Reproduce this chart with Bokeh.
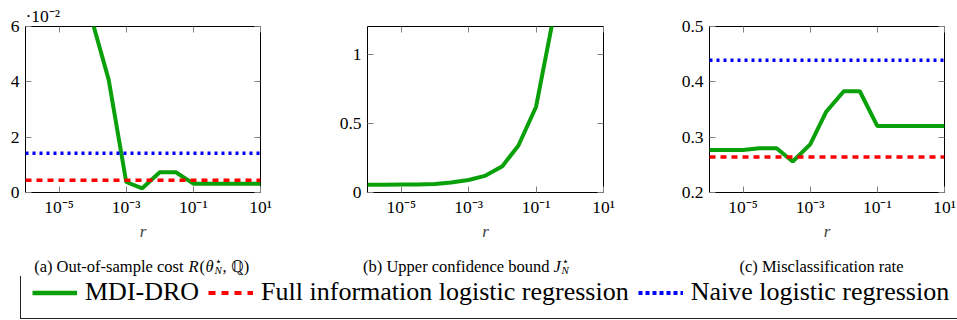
from bokeh.plotting import figure
from bokeh.layouts import column, row
from bokeh.models import (Range1d, FixedTicker, CustomJSTickFormatter, LogAxis, LinearAxis,
                          Span, Label, Legend, LegendItem, Title)
from bokeh.embed import file_html
from bokeh.resources import INLINE

# ---------------- data ----------------
r = [1e-6, 3e-6, 1e-5, 3e-5, 1e-4, 3e-4, 1e-3, 3e-3, 1e-2, 3e-2, 1e-1, 3e-1, 1, 3, 10]

# (a) out-of-sample cost (first visible point at r = 1e-4)
r_a = [1e-4, 3e-4, 1e-3, 3e-3, 1e-2, 3e-2, 1e-1, 3e-1, 1, 3, 10]
cost_mdi = [0.0614, 0.0408, 0.0038, 0.0015, 0.0073, 0.0073, 0.0032, 0.0032, 0.0032, 0.0032, 0.0032]
cost_full = 0.0044
cost_naive = 0.0142

# (b) upper confidence bound (visible part up to r = 0.3)
r_b = [1e-6, 3e-6, 1e-5, 3e-5, 1e-4, 3e-4, 1e-3, 3e-3, 1e-2, 3e-2, 1e-1, 3e-1]
ucb_mdi = [0.056, 0.056, 0.057, 0.058, 0.062, 0.072, 0.090, 0.120, 0.190, 0.340, 0.620, 1.22]

# (c) misclassification rate
mis_mdi = [0.277, 0.277, 0.277, 0.280, 0.280, 0.256, 0.287, 0.346, 0.383, 0.383, 0.320, 0.320, 0.320, 0.320, 0.320]
mis_full = 0.264
mis_naive = 0.439

xtick_vals = [1e-5, 1e-3, 1e-1, 10]
xtick_labels = ["10\u207b\u2075", "10\u207b\u00b3", "10\u207b\u00b9", "10\u00b9"]
ya_ticks = [0, 0.02, 0.04, 0.06]
ya_labels = ["0", "2", "4", "6"]
ya_scale_label = "\u00b710\u207b\u00b2"
yb_ticks = [0, 0.5, 1.0]
yb_labels = ["0", "0.5", "1"]
yc_ticks = [0.2, 0.3, 0.4, 0.5]
yc_labels = ["0.2", "0.3", "0.4", "0.5"]

series_names = ["MDI-DRO", "Full information logistic regression", "Naive logistic regression"]

# ---------------- style ----------------
FONT = "Liberation Serif, Times New Roman, serif"
GREEN = "#0aa00a"
RED = "#ff0000"
BLUE = "#0000ff"
TICK_COLOR = "#808080"
GREEN_W = 4
RED_DASH = "6 5"
BLUE_DASH = "3 4"
TICK_FS = "17.5px"
CAP_FS = "16.5px"

X_LO, X_HI = 1e-6, 10
TOP_B, FRAME_H, BOT_B = 26, 169, 48
CAP_H = 276 - (TOP_B + FRAME_H + BOT_B)


def fmt_lookup(vals, labs, log=False):
    cmp = "Math.abs(Math.log10(vals[i]) - Math.log10(tick)) < 1e-6" if log else "Math.abs(vals[i] - tick) < 1e-9"
    return CustomJSTickFormatter(args=dict(vals=vals, labs=labs), code="""
        for (let i = 0; i < vals.length; i++) {
            if (%s) return labs[i];
        }
        return '';
    """ % cmp)


def blank_fmt():
    return CustomJSTickFormatter(code="return '';")


def style_ticks(ax):
    ax.axis_line_color = None
    ax.major_tick_in = 6
    ax.major_tick_out = 0
    ax.major_tick_line_color = TICK_COLOR
    ax.minor_tick_line_color = None


def make_panel(width, left, right, yrange, yticks, ylabels):
    p = figure(width=width, height=TOP_B + FRAME_H + BOT_B, x_axis_type="log",
               x_range=Range1d(X_LO, X_HI), y_range=Range1d(*yrange),
               output_backend="svg", toolbar_location=None, title=None,
               min_border_left=left, min_border_right=right,
               min_border_top=TOP_B, min_border_bottom=BOT_B)
    p.grid.visible = False
    p.outline_line_color = "black"
    p.outline_line_width = 1
    p.outline_line_alpha = 1
    p.background_fill_color = "white"
    p.border_fill_color = "white"

    xa = p.xaxis[0]
    xa.ticker = FixedTicker(ticks=xtick_vals, minor_ticks=[])
    xa.formatter = fmt_lookup(xtick_vals, xtick_labels, log=True)
    xa.axis_label = "r"
    xa.axis_label_text_font = FONT
    xa.axis_label_text_font_style = "italic"
    xa.axis_label_text_font_size = "17px"
    xa.axis_label_standoff = 2

    ya = p.yaxis[0]
    ya.ticker = FixedTicker(ticks=yticks, minor_ticks=[])
    ya.formatter = fmt_lookup(yticks, ylabels)
    for ax in (xa, ya):
        style_ticks(ax)
        ax.major_label_text_font = FONT
        ax.major_label_text_font_size = TICK_FS
        ax.major_label_text_color = "black"
    xa.major_label_standoff = 4
    ya.major_label_standoff = 6

    top = LogAxis(ticker=FixedTicker(ticks=xtick_vals, minor_ticks=[]), formatter=blank_fmt())
    rgt = LinearAxis(ticker=FixedTicker(ticks=yticks, minor_ticks=[]), formatter=blank_fmt())
    for ax in (top, rgt):
        style_ticks(ax)
        ax.major_label_standoff = 0
        ax.major_label_text_font_size = "1px"
    p.add_layout(top, "above")
    p.add_layout(rgt, "right")
    return p


def make_caption_strip(width):
    s = figure(width=width, height=CAP_H, x_range=Range1d(0, width), y_range=Range1d(0, CAP_H),
               output_backend="svg", toolbar_location=None, title=None,
               x_axis_location=None, y_axis_location=None,
               min_border=0, min_border_left=0, min_border_right=0,
               min_border_top=0, min_border_bottom=0)
    s.grid.visible = False
    s.outline_line_color = None
    s.background_fill_color = "white"
    s.border_fill_color = "white"
    return s


def add_text(p, x, y, text, size=CAP_FS, style="normal", align="left"):
    p.add_layout(Label(x=x, y=y, x_units="screen", y_units="screen", text=text,
                       text_font=FONT, text_font_size=size, text_font_style=style,
                       text_align=align, text_baseline="alphabetic", text_color="black"))


# ---------------- panel (a) ----------------
pa = make_panel(320, 25, 60, (0, 0.06), ya_ticks, ya_labels)
pa.line(r_a, cost_mdi, line_color=GREEN, line_width=GREEN_W)
pa.add_layout(Span(location=cost_full, dimension="width", line_color=RED,
                   line_width=3.5, line_dash=RED_DASH))
pa.add_layout(Span(location=cost_naive, dimension="width", line_color=BLUE,
                   line_width=3.5, line_dash=BLUE_DASH))
pa.add_layout(Title(text=ya_scale_label, align="left", offset=0, standoff=1,
                    text_font=FONT, text_font_size="17.5px", text_font_style="normal",
                    text_color="black"), "above")

CY = 10
sa = make_caption_strip(320)
add_text(sa, 183, CY, "(a) Out-of-sample cost", align="right")
add_text(sa, 188, CY, "R", style="italic")
add_text(sa, 199, CY, "(")
add_text(sa, 205, CY, "\u03b8", style="italic")
add_text(sa, 214, CY + 6, "\u22c6", size="11px")
add_text(sa, 214, CY - 3, "N", size="11px", style="italic")
add_text(sa, 222, CY, ", \u211a)")

# ---------------- panel (b) ----------------
pb = make_panel(319, 47, 36, (0, 1.2), yb_ticks, yb_labels)
pb.line(r_b, ucb_mdi, line_color=GREEN, line_width=GREEN_W)
sb = make_caption_strip(319)
add_text(sb, 229, CY, "(b) Upper confidence bound", align="right")
add_text(sb, 233, CY, "J", style="italic")
add_text(sb, 241, CY + 6, "\u22c6", size="11px")
add_text(sb, 241, CY - 3, "N", size="11px", style="italic")

# ---------------- panel (c) ----------------
pc = make_panel(318, 70, 13, (0.2, 0.5), yc_ticks, yc_labels)
pc.line(r, mis_mdi, line_color=GREEN, line_width=GREEN_W)
pc.add_layout(Span(location=mis_full, dimension="width", line_color=RED,
                   line_width=3.5, line_dash=RED_DASH))
pc.add_layout(Span(location=mis_naive, dimension="width", line_color=BLUE,
                   line_width=3.5, line_dash=BLUE_DASH))
sc = make_caption_strip(318)
add_text(sc, 182, CY, "(c) Misclassification rate", align="center")

# ---------------- legend strip ----------------
pl = figure(width=957, height=44, x_range=Range1d(0, 1), y_range=Range1d(0, 1),
            output_backend="svg", toolbar_location=None, title=None,
            x_axis_location=None, y_axis_location=None,
            min_border=0, min_border_left=0, min_border_right=0,
            min_border_top=0, min_border_bottom=0)
pl.grid.visible = False
pl.outline_line_color = None
# legend proxies (outside the visible range; only their style is used)
l1 = pl.line([-1, -2], [-1, -2], line_color=GREEN, line_width=4.5)
l2 = pl.line([-1, -2], [-1, -2], line_color=RED, line_width=4, line_dash="7 6")
l3 = pl.line([-1, -2], [-1, -2], line_color=BLUE, line_width=4, line_dash="4 3")
leg = Legend(items=[LegendItem(label=series_names[0], renderers=[l1]),
                    LegendItem(label=series_names[1], renderers=[l2]),
                    LegendItem(label=series_names[2], renderers=[l3])],
             orientation="horizontal", location=(20, 1),
             padding=11, spacing=9, margin=0,
             glyph_width=45, glyph_height=21, label_height=21, label_standoff=8,
             label_text_font=FONT, label_text_font_size="26px", label_text_color="black",
             label_text_baseline="middle",
             border_line_color="#222222", border_line_width=1, border_line_alpha=1,
             background_fill_color="white", background_fill_alpha=1)
pl.add_layout(leg, "center")

layout = column(row(pa, pb, pc, spacing=0), row(sa, sb, sc, spacing=0), pl, spacing=0)
open("out.html", "w").write(file_html(layout, INLINE))
